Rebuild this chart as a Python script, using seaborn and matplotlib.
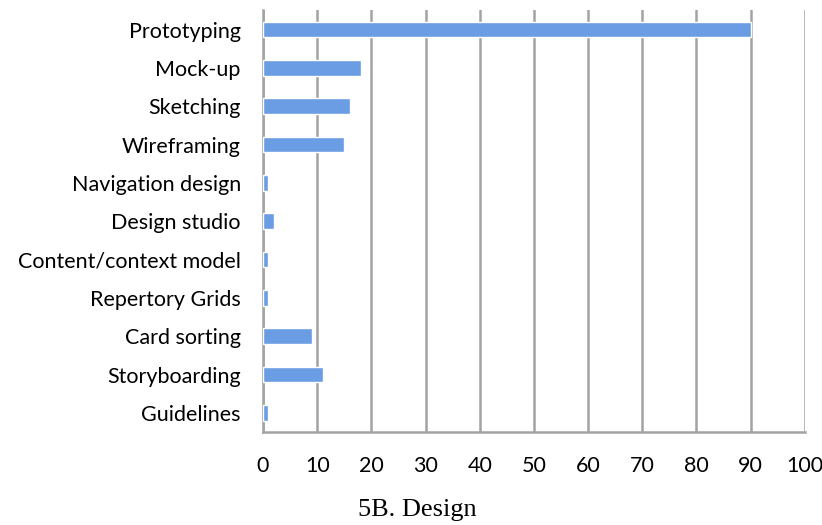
import numpy as np
import pandas as pd
import matplotlib
matplotlib.use("Agg")
import matplotlib.pyplot as plt
import seaborn as sns

# --- Data ---
methods = ["Prototyping", "Mock-up", "Sketching", "Wireframing", "Navigation design",
           "Design studio", "Content/context model", "Repertory Grids", "Card sorting",
           "Storyboarding", "Guidelines"]
counts = [90, 18, 16, 15, 1, 2, 1, 1, 9, 11, 1]
xticks = [0, 10, 20, 30, 40, 50, 60, 70, 80, 90, 100]

df = pd.DataFrame({"method": methods, "count": counts})

sns.set_style("white")
plt.rcParams["font.family"] = ["Lato", "DejaVu Sans"]
plt.rcParams["text.color"] = "black"
plt.rcParams["xtick.color"] = "black"
plt.rcParams["ytick.color"] = "black"

fig = plt.figure(figsize=(8.22, 5.25), dpi=100)
ax = fig.add_axes([0.32, 0.1771, 0.659, 0.803])

sns.barplot(data=df, x="count", y="method", orient="h", color="#6a9de4",
            width=0.41, saturation=1, ax=ax, zorder=3)

grey = "#a3a3a3"
ax.set_xlim(0, 100)
ax.set_ylim(len(methods) - 0.5, -0.5)
ax.set_xticks(xticks)
ax.set_xticklabels([str(t) for t in xticks], fontsize=15.5)
ax.tick_params(axis="x", direction="out", length=6, width=1.8, color=grey, pad=11)
ax.tick_params(axis="y", which="major", length=0, labelsize=15.5, pad=16)
ax.set_yticks(np.arange(-0.5, len(methods) + 0.5, 1), minor=True)
ax.tick_params(axis="y", which="minor", direction="out", length=6, width=1.8, color=grey)

ax.grid(axis="x", color=grey, linewidth=1.8, zorder=0)
ax.set_axisbelow(True)
ax.set_xlabel("")
ax.set_ylabel("")

for side in ["top", "right"]:
    ax.spines[side].set_visible(False)
for side in ["left", "bottom"]:
    ax.spines[side].set_color(grey)
    ax.spines[side].set_linewidth(1.8)

fig.text(0.508, 0.029, "5B. Design", ha="center", va="center", fontsize=19,
         family=["Liberation Serif", "DejaVu Serif"])

fig.savefig("out.png", dpi=100, facecolor="white")
